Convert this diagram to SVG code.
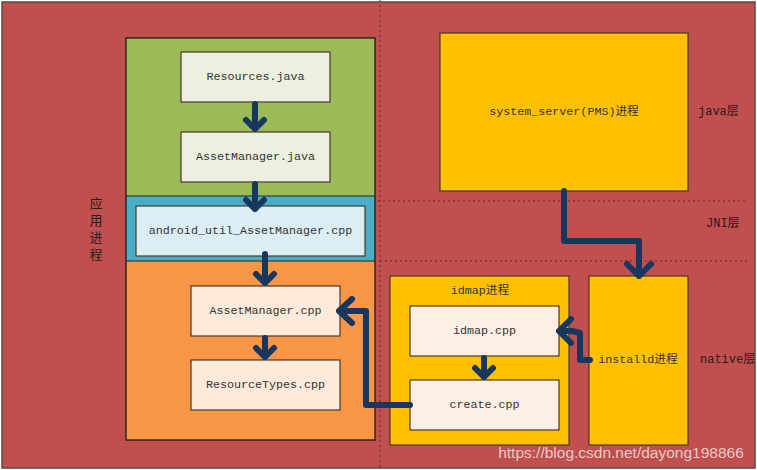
<svg xmlns="http://www.w3.org/2000/svg" width="757" height="470" viewBox="0 0 757 470">
<defs>
<style>
.t{font-family:"Liberation Mono","Noto Sans CJK SC",monospace;font-size:11.7px;fill:#333;text-anchor:middle;dominant-baseline:central}
.l{font-family:"Liberation Mono","Noto Sans CJK SC",monospace;font-size:12px;fill:#2a1a1a;dominant-baseline:central}
.box{stroke:#4a3826;stroke-width:1.2}
.arr{fill:none;stroke:#17375E;stroke-width:6;stroke-linecap:round;stroke-linejoin:round}
.dot{stroke:#6e2424;stroke-width:1;stroke-dasharray:2 3;fill:none}
</style>
</defs>
<rect x="2" y="2" width="753" height="466" fill="#C0504D" stroke="#5a4a4a" stroke-width="1.5"/>
<g id="guides">
<line class="dot" x1="380" y1="0" x2="380" y2="470"/>
<line class="dot" x1="378" y1="201" x2="745" y2="201"/>
<line class="dot" x1="380" y1="261" x2="748" y2="261"/>
</g>
<g id="app-process">
<rect x="126" y="38" width="249" height="158" fill="#9BBB59"/>
<rect x="126" y="196" width="249" height="65" fill="#4BACC6"/>
<rect x="126" y="261" width="249" height="179" fill="#F79646"/>
<rect x="126" y="38" width="249" height="402" fill="none" stroke="#111" stroke-width="1.2"/>
<line x1="126" y1="196" x2="375" y2="196" stroke="#222" stroke-width="1"/>
<line x1="126" y1="261" x2="375" y2="261" stroke="#222" stroke-width="1"/>
<text class="l" x="96" y="204" text-anchor="middle" style="font-size:13px">应</text>
<text class="l" x="96" y="221" text-anchor="middle" style="font-size:13px">用</text>
<text class="l" x="96" y="238" text-anchor="middle" style="font-size:13px">进</text>
<text class="l" x="96" y="255" text-anchor="middle" style="font-size:13px">程</text>
</g>
<g id="resources-java">
<rect class="box" x="181" y="52" width="149" height="50" fill="#EBF1DE"/>
<text class="t" x="255.5" y="77">Resources.java</text>
</g>
<g id="assetmanager-java">
<rect class="box" x="181" y="132" width="149" height="50" fill="#EBF1DE"/>
<text class="t" x="255.5" y="157">AssetManager.java</text>
</g>
<g id="android-util">
<rect class="box" x="136" y="206" width="229" height="50" fill="#DAEEF3"/>
<text class="t" x="250.5" y="231">android_util_AssetManager.cpp</text>
</g>
<g id="assetmanager-cpp">
<rect class="box" x="191" y="286" width="149" height="50" fill="#FDEADA"/>
<text class="t" x="265.5" y="311">AssetManager.cpp</text>
</g>
<g id="resourcetypes-cpp">
<rect class="box" x="191" y="360" width="149" height="50" fill="#FDEADA"/>
<text class="t" x="265.5" y="385">ResourceTypes.cpp</text>
</g>
<g id="system-server">
<rect class="box" x="440" y="33" width="248" height="158" fill="#FFC000"/>
<text class="t" x="564" y="112">system_server(PMS)进程</text>
</g>
<g id="idmap-process">
<rect class="box" x="390" y="276" width="179" height="169" fill="#FFC000" stroke="#2a2010"/>
<text class="t" x="480" y="291">idmap进程</text>
</g>
<g id="idmap-cpp">
<rect class="box" x="410" y="306" width="149" height="50" fill="#FDEFE4"/>
<text class="t" x="484.5" y="331">idmap.cpp</text>
</g>
<g id="create-cpp">
<rect class="box" x="410" y="380" width="149" height="50" fill="#FDEFE4"/>
<text class="t" x="484.5" y="405">create.cpp</text>
</g>
<g id="installd">
<rect class="box" x="589" y="276" width="99" height="169" fill="#FFC000"/>
<text class="t" x="638" y="360">installd进程</text>
</g>
<g id="layer-labels">
<text class="l" x="698" y="112">java层</text>
<text class="l" x="706" y="224">JNI层</text>
<text class="l" x="700" y="360">native层</text>
</g>
<g id="connectors">
<path class="arr" d="M255 104V129M246 120L255 129L264 120"/>
<path class="arr" d="M255 184V209M246 200L255 209L264 200"/>
<path class="arr" d="M265 254V283M256 274L265 283L274 274"/>
<path class="arr" d="M265 338V357M256 348L265 357L274 348"/>
<path class="arr" d="M484 358V377M475 368L484 377L493 368"/>
<path class="arr" d="M564 191V241H639V276M627 264L639 276L651 264"/>
<path class="arr" d="M410 405H366V311H339M352 299L339 311L352 323"/>
<path class="arr" d="M590 360H580V333L572 331H559M571 319L559 331L571 343"/>
</g>
<text x="621" y="452" font-family="Liberation Sans, Arial, sans-serif" font-size="15.5" fill="#ffffff" fill-opacity="0.7" text-anchor="middle" dominant-baseline="central">https://blog.csdn.net/dayong198866</text>
</svg>
